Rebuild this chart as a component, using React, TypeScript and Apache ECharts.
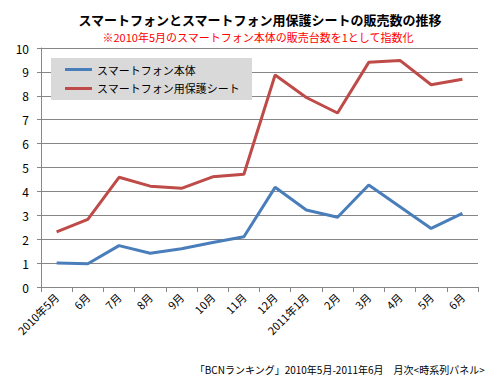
import React, { useEffect, useRef } from "react";
import * as echarts from "echarts";

const categories = ["2010年5月", "6月", "7月", "8月", "9月", "10月", "11月", "12月", "2011年1月", "2月", "3月", "4月", "5月", "6月"];
const phoneValues = [1.0, 0.97, 1.73, 1.41, 1.6, 1.86, 2.1, 4.17, 3.22, 2.92, 4.27, 3.36, 2.45, 3.08];
const sheetValues = [2.31, 2.83, 4.59, 4.22, 4.13, 4.61, 4.72, 8.87, 7.93, 7.28, 9.4, 9.48, 8.46, 8.69];
const seriesNames = ["スマートフォン本体", "スマートフォン用保護シート"];
const titleText = "スマートフォンとスマートフォン用保護シートの販売数の推移";
const subtitleText = "※2010年5月のスマートフォン本体の販売台数を1として指数化";
const footerText = "「BCNランキング」2010年5月-2011年6月　月次<時系列パネル>";

const FONT = "'Noto Sans CJK JP', 'Noto Sans', sans-serif";

export default function App() {
  const ref = useRef<HTMLDivElement>(null);
  useEffect(() => {
    if (!ref.current) return;
    const chart = echarts.init(ref.current, null, { renderer: "svg" });
    chart.setOption({
      animation: false,
      backgroundColor: "#ffffff",
      textStyle: { fontFamily: FONT },
      title: [
        {
          text: titleText,
          left: 255,
          top: 8,
          textAlign: "center",
          textStyle: { fontSize: 13, fontWeight: "bold", color: "#000", fontFamily: FONT },
        },
        {
          text: subtitleText,
          left: 253,
          top: 26,
          textAlign: "center",
          textStyle: { fontSize: 11, fontWeight: "normal", color: "#ff0000", fontFamily: FONT },
        },
        {
          text: footerText,
          right: 10,
          top: 359,
          textStyle: { fontSize: 10, fontWeight: "normal", color: "#000", fontFamily: FONT },
        },
      ],
      legend: {
        orient: "vertical",
        left: 51,
        top: 58,
        backgroundColor: "#d9d9d9",
        padding: [6, 12, 6, 14],
        itemGap: 8,
        itemWidth: 27,
        itemHeight: 3,
        icon: "rect",
        textStyle: { fontSize: 11, color: "#000", fontFamily: FONT },
        data: seriesNames,
      },
      grid: { left: 41, right: 22, top: 48, bottom: 93 },
      xAxis: {
        type: "category",
        data: categories,
        boundaryGap: true,
        axisLine: { lineStyle: { color: "#868686", width: 1 } },
        axisTick: { show: true, alignWithLabel: false, length: 5, lineStyle: { color: "#868686" } },
        axisLabel: { rotate: 45, fontSize: 11, color: "#000", margin: 8, interval: 0, fontFamily: FONT },
      },
      yAxis: {
        type: "value",
        min: 0,
        max: 10,
        interval: 1,
        axisLine: { show: true, lineStyle: { color: "#868686", width: 1 } },
        axisTick: { show: true, length: 4, lineStyle: { color: "#868686" } },
        axisLabel: { fontSize: 12, color: "#000", margin: 12, fontFamily: FONT },
        splitLine: { lineStyle: { color: "#868686", width: 1 } },
      },
      series: [
        {
          name: seriesNames[0],
          type: "line",
          data: phoneValues,
          symbol: "none",
          color: "#4a7ebb",
          lineStyle: { width: 3, color: "#4a7ebb" },
        },
        {
          name: seriesNames[1],
          type: "line",
          data: sheetValues,
          symbol: "none",
          color: "#be4b48",
          lineStyle: { width: 3, color: "#be4b48" },
        },
      ],
    });
    return () => chart.dispose();
  }, []);
  return <div ref={ref} style={{ width: 500, height: 380, position: "absolute", left: 0, top: 0 }} />;
}
